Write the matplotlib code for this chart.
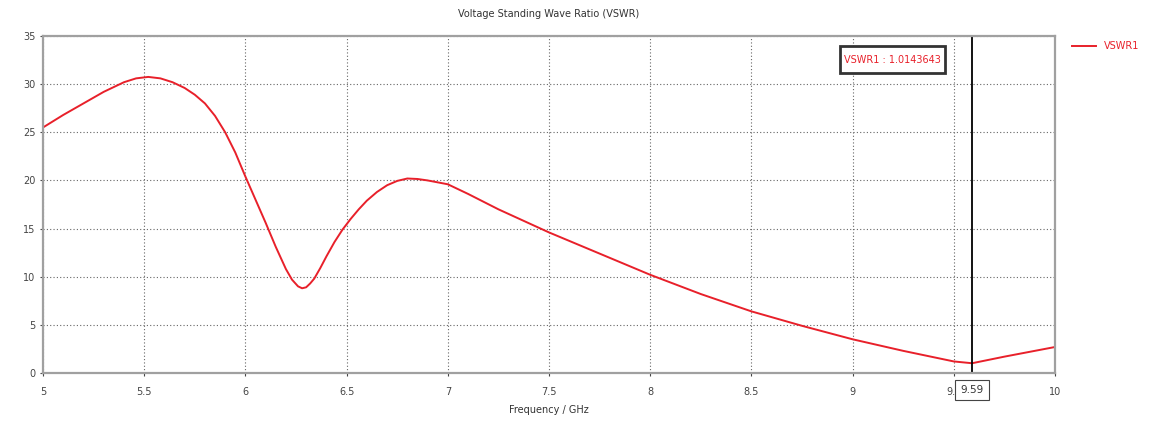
# VSWR plot recreated from the simulator screenshot
import matplotlib.pyplot as plt
from matplotlib.patches import Rectangle

# frequency (GHz) and VSWR values
freq = [5.0, 5.1, 5.2, 5.3, 5.4, 5.46, 5.52, 5.58, 5.64, 5.7, 5.75, 5.8, 5.85,
        5.9, 5.95, 6.0, 6.05, 6.1, 6.15, 6.2, 6.23, 6.26, 6.28, 6.3, 6.32, 6.34,
        6.37, 6.4, 6.44, 6.48, 6.52, 6.56, 6.6, 6.65, 6.7, 6.75, 6.8, 6.85, 6.9,
        7.0, 7.1, 7.25, 7.5, 7.75, 8.0, 8.25, 8.5, 8.75, 9.0, 9.25, 9.5, 9.59,
        9.75, 10.0]
vswr = [25.5, 26.8, 28.0, 29.2, 30.2, 30.6, 30.75, 30.6, 30.2, 29.6, 28.9, 28.0,
        26.7, 25.0, 22.9, 20.4, 18.0, 15.6, 13.1, 10.8, 9.7, 9.0, 8.8, 8.9, 9.3,
        9.8, 10.9, 12.1, 13.6, 14.9, 16.0, 17.0, 17.9, 18.8, 19.5, 19.95, 20.2,
        20.15, 20.0, 19.6, 18.6, 17.0, 14.6, 12.4, 10.2, 8.2, 6.4, 4.9, 3.5, 2.3,
        1.2, 1.0143643, 1.7, 2.7]

cursor_freq = 9.59
cursor_val = 1.0143643
xticks = [5, 5.5, 6, 6.5, 7, 7.5, 8, 8.5, 9, 9.5, 10]
xtick_labels = ['5', '5.5', '6', '6.5', '7', '7.5', '8', '8.5', '9', '9.5', '10']
yticks = [0, 5, 10, 15, 20, 25, 30, 35]

fs = 7
red = '#e8202a'
plt.rcParams['font.family'] = 'DejaVu Sans'
fig = plt.figure(figsize=(11.59, 4.23), dpi=100)
ax = fig.add_axes([0.0371, 0.1182, 0.8732, 0.7967])

ax.plot(freq, vswr, color=red, lw=1.4, label='VSWR1')
ax.axvline(cursor_freq, color='black', lw=1.3)

ax.set_xlim(5, 10)
ax.set_ylim(0, 35)
ax.set_xticks(xticks)
ax.set_xticklabels(xtick_labels)
ax.set_yticks(yticks)
ax.tick_params(labelsize=fs, colors='#444444', length=2)
ax.tick_params(axis='x', pad=8)
ax.grid(True, color='#666666', linestyle=(0, (1, 2)), lw=0.8)
for s in ax.spines.values():
    s.set_color('#a0a0a0')
    s.set_linewidth(1.6)

ax.set_title('Voltage Standing Wave Ratio (VSWR)', fontsize=fs, color='#333333', pad=14)
ax.set_xlabel('Frequency / GHz', fontsize=fs, color='#333333', labelpad=6)

# cursor readout box
bx, by = 9.197, 32.55
ax.add_patch(Rectangle((bx - 0.259, by - 1.40), 0.518, 2.80, fc='white',
                       ec='#333333', lw=2.0, zorder=5))
ax.text(bx, by, 'VSWR1 : %.7f' % cursor_val, fontsize=fs, color=red,
        ha='center', va='center', zorder=6)
# cursor x label box on the axis (hides most of the 9.5 tick label)
ax.annotate('%.2f' % cursor_freq, xy=(cursor_freq, 0), xycoords='data',
            xytext=(0, -12.3), textcoords='offset points', ha='center', va='center',
            fontsize=7.5, color='#333333', annotation_clip=False,
            bbox=dict(boxstyle='square,pad=0.5', fc='white', ec='#444444', lw=0.8))

ax.legend(loc='upper left', bbox_to_anchor=(1.008, 1.01), frameon=False,
          fontsize=fs, labelcolor=red, handlelength=2.5)

plt.savefig('out.png', dpi=100)
